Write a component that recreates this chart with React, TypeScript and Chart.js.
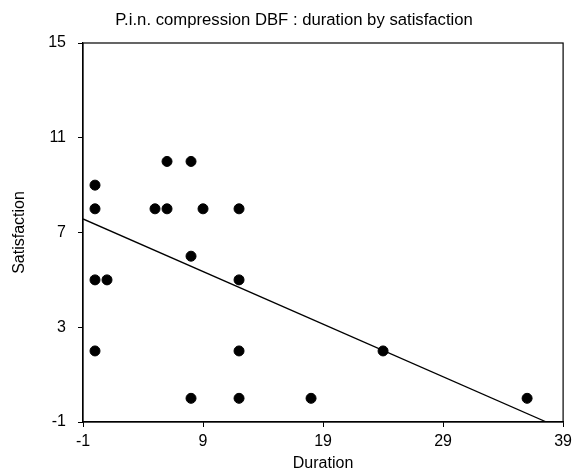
import React, { useEffect, useRef } from "react";
import { Chart, registerables } from "chart.js";

Chart.register(...registerables);

const chartTitle = "P.i.n. compression DBF : duration by satisfaction";
const xAxisTitle = "Duration";
const yAxisTitle = "Satisfaction";

const durations = [0, 0, 0, 1, 0, 5, 6, 6, 8, 9, 8, 12, 12, 12, 12, 8, 18, 24, 36];
const satisfaction = [9, 8, 5, 5, 2, 8, 10, 8, 10, 8, 6, 8, 5, 2, 0, 0, 0, 2, 0];

const xTicks = [-1, 9, 19, 29, 39];
const yTicks = [-1, 3, 7, 11, 15];

// regression line: satisfaction = fitIntercept + fitSlope * duration
const fitIntercept = 7.35;
const fitSlope = -0.222;

const FONT = "'Liberation Sans', Arial, sans-serif";

const boxPlugin = {
  id: "plotBox",
  afterDraw(chart: any) {
    const { ctx, chartArea } = chart;
    ctx.save();
    ctx.strokeStyle = "#000";
    ctx.lineWidth = 1.2;
    ctx.strokeRect(chartArea.left, chartArea.top, chartArea.right - chartArea.left, chartArea.bottom - chartArea.top);
    ctx.fillStyle = "#000";
    ctx.font = `normal 16.7px ${FONT}`;
    ctx.textAlign = "center";
    ctx.textBaseline = "middle";
    ctx.fillText(chartTitle, 294, 20);
    ctx.restore();
  },
};

export default function App() {
  const ref = useRef<HTMLCanvasElement | null>(null);

  useEffect(() => {
    if (!ref.current) return;
    const xMin = xTicks[0];
    const xMax = xTicks[xTicks.length - 1];
    const yMin = yTicks[0];
    const yMax = yTicks[yTicks.length - 1];
    const lineStart = { x: xMin, y: fitIntercept + fitSlope * xMin };
    const xAtYMin = (yMin - fitIntercept) / fitSlope;
    const lineEnd = xAtYMin < xMax ? { x: xAtYMin, y: yMin } : { x: xMax, y: fitIntercept + fitSlope * xMax };

    const chart = new Chart(ref.current, {
      type: "scatter",
      data: {
        datasets: [
          {
            type: "scatter",
            data: durations.map((d, i) => ({ x: d, y: satisfaction[i] })),
            backgroundColor: "#000",
            borderColor: "#000",
            pointRadius: 5,
            pointHoverRadius: 5,
          },
          {
            type: "line",
            data: [lineStart, lineEnd],
            borderColor: "#000",
            borderWidth: 1.3,
            pointRadius: 0,
            fill: false,
          } as any,
        ],
      },
      options: {
        responsive: false,
        animation: false,
        layout: { padding: { left: 0, right: 13, top: 43, bottom: 0 } },
        plugins: {
          legend: { display: false },
          tooltip: { enabled: false },
          title: { display: false, text: chartTitle },
        },
        scales: {
          x: {
            type: "linear",
            min: xMin,
            max: xMax,
            afterBuildTicks: (s: any) => {
              s.ticks = xTicks.map((v) => ({ value: v }));
            },
            afterFit: (s: any) => {
              s.height = 51;
            },
            border: { display: true, color: "#000", width: 1.2 },
            grid: { drawOnChartArea: false, drawTicks: true, tickLength: 5, color: "#000" },
            ticks: { color: "#000", font: { family: FONT, size: 16 }, padding: 5, maxRotation: 0, autoSkip: false },
            title: {
              display: true,
              text: xAxisTitle,
              color: "#000",
              font: { family: FONT, size: 16 },
              padding: { top: 0, bottom: 0 },
            },
          },
          y: {
            type: "linear",
            min: yMin,
            max: yMax,
            afterBuildTicks: (s: any) => {
              s.ticks = yTicks.map((v) => ({ value: v }));
            },
            afterFit: (s: any) => {
              s.width = 83;
            },
            border: { display: true, color: "#000", width: 1.2 },
            grid: { drawOnChartArea: false, drawTicks: true, tickLength: 5, color: "#000" },
            ticks: { color: "#000", font: { family: FONT, size: 16 }, padding: 12, autoSkip: false },
            title: {
              display: true,
              text: yAxisTitle,
              color: "#000",
              font: { family: FONT, size: 16 },
              padding: { top: 10, bottom: 0 },
            },
          },
        },
      },
      plugins: [boxPlugin],
    });
    return () => chart.destroy();
  }, []);

  return (
    <div style={{ position: "fixed", left: 0, top: 0, width: 577, height: 473, background: "#fff" }}>
      <canvas ref={ref} width={577} height={473} />
    </div>
  );
}
